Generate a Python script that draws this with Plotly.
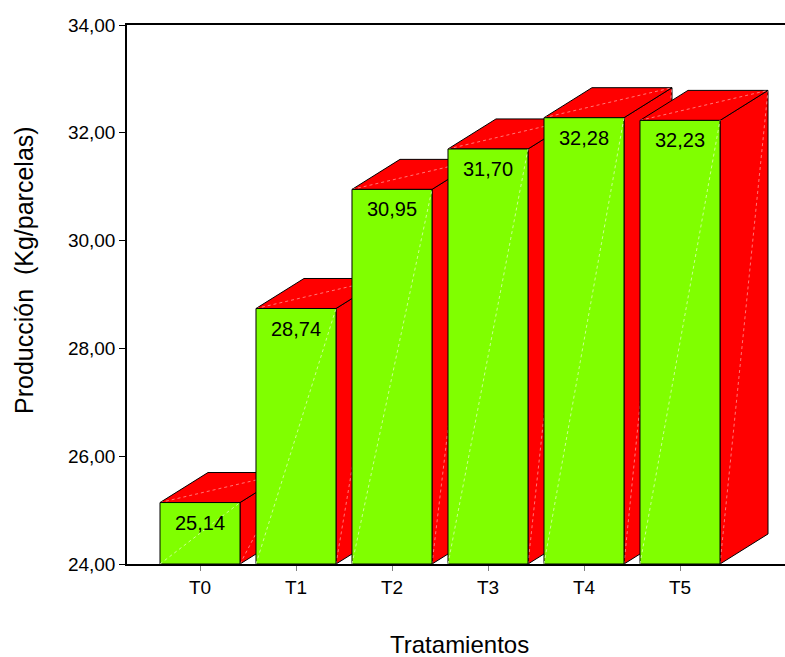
import plotly.graph_objects as go

# Treatment labels and mean yield per plot (kg)
tratamientos = ["T0", "T1", "T2", "T3", "T4", "T5"]
produccion = [25.14, 28.74, 30.95, 31.70, 32.28, 32.23]
y_ticks = [24, 26, 28, 30, 32, 34]

# Geometry of the pseudo-3D boxes (in axis units)
HALF_W = 0.4167      # half width of the front face
DX = 0.5             # depth offset along x
DY = 0.557           # depth offset along y
BASE = 24.0
GREEN = "#80FF00"
RED = "#FF0000"

fig = go.Figure()


def face(xs, ys, color):
    fig.add_trace(go.Scatter(
        x=xs + [xs[0]], y=ys + [ys[0]], mode="lines", fill="toself",
        fillcolor=color, line=dict(color="black", width=1),
        hoverinfo="skip", showlegend=False))


def seam(xs, ys, color):
    fig.add_trace(go.Scatter(
        x=xs, y=ys, mode="lines", line=dict(color=color, width=1, dash="dot"),
        hoverinfo="skip", showlegend=False))


for i, v in enumerate(produccion):
    x0, x1 = i - HALF_W, i + HALF_W
    # right side face
    face([x1, x1 + DX, x1 + DX, x1], [BASE, BASE + DY, v + DY, v], RED)
    seam([x1, x1 + DX], [BASE, v + DY], "rgba(255,170,170,0.7)")
    # top face
    face([x0, x1, x1 + DX, x0 + DX], [v, v, v + DY, v + DY], RED)
    seam([x0, x1 + DX], [v, v + DY], "rgba(255,170,170,0.7)")
    # front face
    face([x0, x1, x1, x0], [BASE, BASE, v, v], GREEN)
    seam([x0, x1], [BASE, v], "rgba(220,255,180,0.8)")
    fig.add_annotation(
        x=i, y=v, text=f"{v:.2f}".replace(".", ","), showarrow=False,
        yshift=-20, font=dict(size=20, color="black"))

fig.add_annotation(
    x=0.506, y=-0.1495, xref="paper", yref="paper", text="Tratamientos",
    xanchor="center", yanchor="middle",
    showarrow=False, font=dict(size=24, color="black"))
fig.add_annotation(
    x=-0.1565, y=0.5455, xref="paper", yref="paper",
    text="Producción  (Kg/parcelas)", textangle=-90,
    xanchor="center", yanchor="middle",
    showarrow=False, font=dict(size=25, color="black"))

fig.update_layout(
    width=785, height=657,
    margin=dict(l=127, r=0, t=25, b=93),
    paper_bgcolor="white", plot_bgcolor="white",
    separators=",.",
    font=dict(family="Arial, Liberation Sans, sans-serif", size=19, color="black"),
    xaxis=dict(
        range=[-0.7604, 6.0938], tickvals=list(range(len(tratamientos))),
        ticktext=tratamientos, showgrid=False, zeroline=False,
        showline=True, linecolor="black", linewidth=1.5, mirror=True,
        ticks="outside", ticklen=5, tickcolor="#808080", tickwidth=1,
        tickfont=dict(size=19)),
    yaxis=dict(
        range=[24, 34], tickvals=y_ticks, tickformat=".2f",
        showgrid=False, zeroline=False, showline=True, linecolor="black",
        linewidth=1.5, ticks="outside", ticklen=6, tickcolor="black",
        tickfont=dict(size=19)),
)

fig.write_html("out.html")
